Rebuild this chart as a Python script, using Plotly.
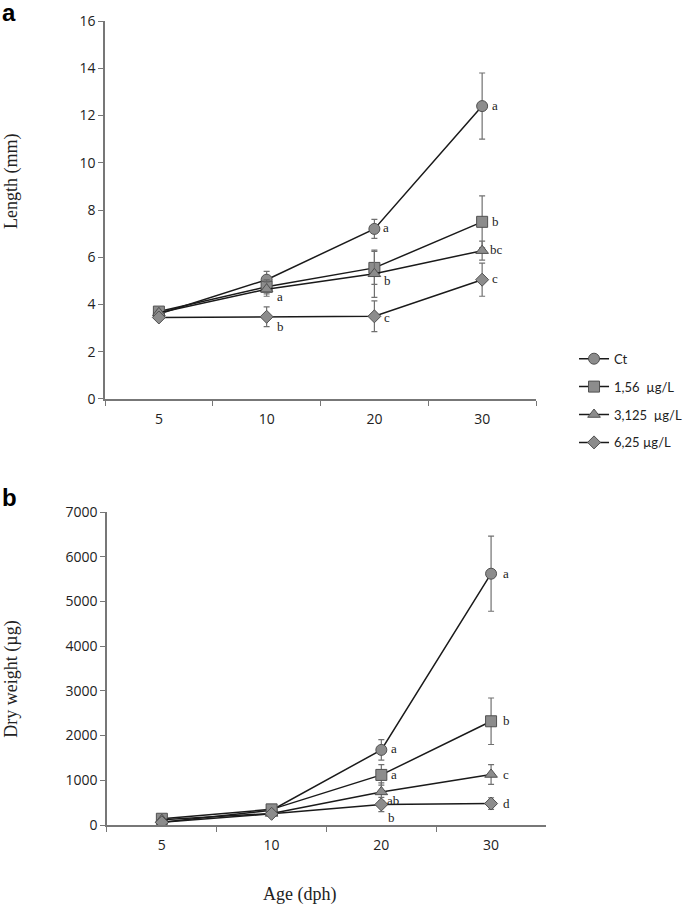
import plotly.graph_objects as go

ages = ["5", "10", "20", "30"]
series_names = ["Ct", "1,56  µg/L", "3,125  µg/L", "6,25 µg/L"]
symbols = ["circle", "square", "triangle-up", "diamond"]

# Panel a: Length (mm)
len_ct = [3.6, 5.05, 7.2, 12.4]
len_ct_err = [0.1, 0.35, 0.4, 1.4]
len_156 = [3.7, 4.75, 5.55, 7.5]
len_156_err = [0.1, 0.3, 0.7, 1.1]
len_3125 = [3.65, 4.65, 5.3, 6.28]
len_3125_err = [0.1, 0.3, 1.0, 0.4]
len_625 = [3.45, 3.48, 3.5, 5.05]
len_625_err = [0.1, 0.42, 0.65, 0.7]
len_labels = [
    ["", "", "a", "a"],
    ["", "", "", "b"],
    ["", "a", "b", "bc"],
    ["", "b", "c", "c"],
]

# Panel b: Dry weight (µg)
dw_ct = [60, 330, 1680, 5620]
dw_ct_err = [20, 40, 230, 840]
dw_156 = [140, 350, 1120, 2320]
dw_156_err = [30, 40, 230, 520]
dw_3125 = [120, 260, 740, 1130]
dw_3125_err = [30, 40, 200, 220]
dw_625 = [60, 250, 460, 480]
dw_625_err = [20, 30, 160, 130]
dw_labels = [
    ["", "", "a", "a"],
    ["", "", "a", "b"],
    ["", "", "ab", "c"],
    ["", "", "b", "d"],
]

len_vals = [len_ct, len_156, len_3125, len_625]
len_errs = [len_ct_err, len_156_err, len_3125_err, len_625_err]
dw_vals = [dw_ct, dw_156, dw_3125, dw_625]
dw_errs = [dw_ct_err, dw_156_err, dw_3125_err, dw_625_err]

# label offsets (px) per series for each panel
len_offsets = [
    [(0, 0), (0, 0), (7, 1), (8, 1)],
    [(0, 0), (0, 0), (0, 0), (8, 0)],
    [(0, 0), (8, -7), (8, -7), (6, 1)],
    [(0, 0), (8, -10), (8, -1), (8, 1)],
]
dw_offsets = [
    [(0, 0), (0, 0), (8, 1), (10, 0)],
    [(0, 0), (0, 0), (8, 0), (10, 1)],
    [(0, 0), (0, 0), (4, -9), (10, 0)],
    [(0, 0), (0, 0), (5, -13), (10, 0)],
]

fill = "#8c8c8c"
edge = "#505050"
err_col = "#707070"

fig = go.Figure()

for i in range(4):
    fig.add_trace(go.Scatter(
        x=ages, y=len_vals[i], mode="lines+markers", name=series_names[i],
        legendgroup=str(i),
        line=dict(color="#1a1a1a", width=1.5),
        marker=dict(symbol=symbols[i], size=11 if i < 3 else 10, color=fill,
                    line=dict(color=edge, width=1)),
        error_y=dict(type="data", array=len_errs[i], color=err_col, thickness=1.2, width=3),
        xaxis="x", yaxis="y",
    ))
for i in range(4):
    fig.add_trace(go.Scatter(
        x=ages, y=dw_vals[i], mode="lines+markers", name=series_names[i],
        legendgroup=str(i), showlegend=False,
        line=dict(color="#1a1a1a", width=1.5),
        marker=dict(symbol=symbols[i], size=11 if i < 3 else 10, color=fill,
                    line=dict(color=edge, width=1)),
        error_y=dict(type="data", array=dw_errs[i], color=err_col, thickness=1.2, width=3),
        xaxis="x2", yaxis="y2",
    ))

annotations = []
serif = "Liberation Serif, DejaVu Serif, serif"
for i in range(4):
    for j in range(4):
        if len_labels[i][j]:
            dx, dy = len_offsets[i][j]
            annotations.append(dict(x=j, y=len_vals[i][j], xref="x", yref="y",
                                    text=len_labels[i][j], showarrow=False,
                                    xanchor="left", yanchor="middle", xshift=dx, yshift=dy,
                                    font=dict(family=serif, size=13, color="#222")))
        if dw_labels[i][j]:
            dx, dy = dw_offsets[i][j]
            annotations.append(dict(x=j, y=dw_vals[i][j], xref="x2", yref="y2",
                                    text=dw_labels[i][j], showarrow=False,
                                    xanchor="left", yanchor="middle", xshift=dx, yshift=dy,
                                    font=dict(family=serif, size=13, color="#222")))

annotations += [
    dict(x=0.0, y=1.0, xref="paper", yref="paper", text="<b>a</b>", showarrow=False,
         xanchor="left", yanchor="top", yshift=3, font=dict(family="Liberation Sans, Arial", size=24, color="black")),
    dict(x=0.0, y=0.469, xref="paper", yref="paper", text="<b>b</b>", showarrow=False,
         xanchor="left", yanchor="top", font=dict(family="Liberation Sans, Arial", size=24, color="black")),
    dict(x=0.437, y=0.0, xref="paper", yref="paper", text="Age (dph)", showarrow=False,
         xanchor="center", yanchor="bottom", yshift=0, font=dict(family=serif, size=18, color="#222")),
    dict(x=0.017, y=0.8, xref="paper", yref="paper", text="Length (mm)", showarrow=False,
         textangle=-90, xanchor="center", yanchor="middle",
         font=dict(family=serif, size=18, color="#222")),
    dict(x=0.017, y=0.2514, xref="paper", yref="paper", text="Dry weight (µg)", showarrow=False,
         textangle=-90, xanchor="center", yanchor="middle",
         font=dict(family=serif, size=18, color="#222")),
]

sans = "Open Sans, Liberation Sans, sans-serif"
xcommon = dict(type="category", showline=True, linecolor="#777", linewidth=1.5,
               ticks="outside", tickson="boundaries", ticklen=5, tickcolor="#777",
               showgrid=False, zeroline=False, ticklabelstandoff=6,
               tickfont=dict(family=sans, size=14, color="#222"), range=[-0.5, 3.5])
ycommon = dict(showline=True, linecolor="#777", linewidth=1.5, ticks="outside", ticklen=5,
               tickcolor="#777", showgrid=False, zeroline=False,
               tickfont=dict(family=sans, size=14, color="#222"))

fig.update_layout(
    width=685, height=907,
    margin=dict(l=0, r=0, t=0, b=0, autoexpand=False),
    paper_bgcolor="white", plot_bgcolor="white",
    xaxis=dict(domain=[0.1533, 0.7825], anchor="y", **xcommon),
    yaxis=dict(domain=[0.5601, 0.9768], anchor="x", range=[0, 16], dtick=2, **ycommon),
    xaxis2=dict(domain=[0.1562, 0.797], anchor="y2", **xcommon),
    yaxis2=dict(domain=[0.0904, 0.4355], anchor="x2", range=[0, 7000], dtick=1000, **ycommon),
    legend=dict(x=0.838, y=0.621, xanchor="left", yanchor="top",
                font=dict(family="Lato, Open Sans, sans-serif", size=13, color="#222"),
                tracegroupgap=8, itemwidth=30, bgcolor="rgba(0,0,0,0)"),
    annotations=annotations,
    showlegend=True,
)

fig.write_html("out.html", config={"displayModeBar": False},
               post_script="document.body.style.margin='0px';document.body.style.overflow='hidden';")
